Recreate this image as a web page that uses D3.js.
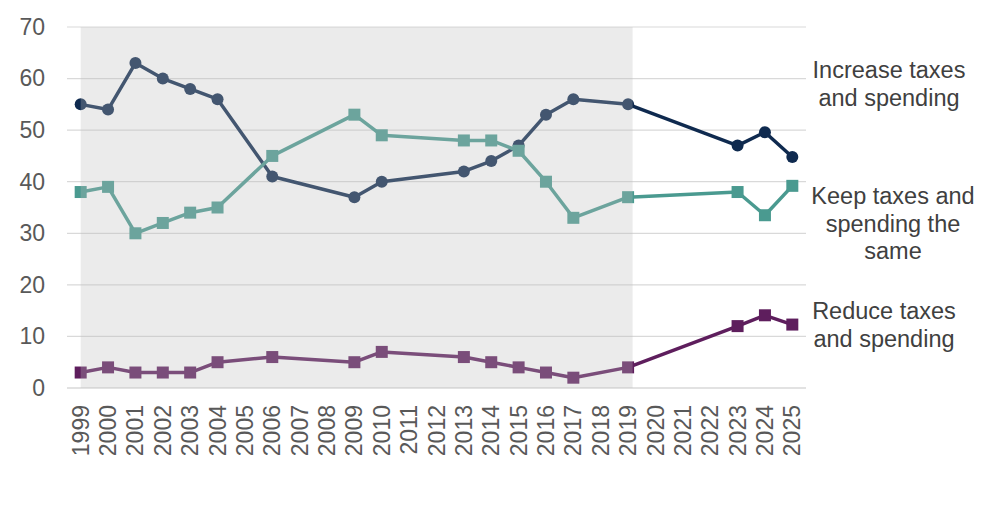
<!DOCTYPE html>
<html>
<head>
<meta charset="utf-8">
<script src="https://cdn.jsdelivr.net/npm/d3@7"></script>
<style>
  body { margin: 0; background: #fff; }
  text { font-family: "Liberation Sans", Arial, sans-serif; }
</style>
</head>
<body>
<div class="chart"></div>
<script>
// Data
const axisYears = d3.range(1999, 2026).map(String);
const surveyYears = [1999, 2000, 2001, 2002, 2003, 2004, 2006, 2009, 2010, 2013, 2014, 2015, 2016, 2017, 2019, 2023, 2024, 2025];
const increase = [55, 54, 63, 60, 58, 56, 41, 37, 40, 42, 44, 47, 53, 56, 55, 47, 49.6, 44.8];
const keep = [38, 39, 30, 32, 34, 35, 45, 53, 49, 48, 48, 46, 40, 33, 37, 38, 33.5, 39.2];
const reduce = [3, 4, 3, 3, 3, 5, 6, 5, 7, 6, 5, 4, 3, 2, 4, 12, 14.1, 12.3];
const yTicks = [0, 10, 20, 30, 40, 50, 60, 70];
const shadeFrom = 1999, shadeTo = 2019;

const W = 1000, H = 508;
const plot = {left: 67, right: 806, top: 27, bottom: 388};

const svg = d3.select(".chart").append("svg")
    .attr("width", W)
    .attr("height", H);

const x = d3.scaleBand()
    .domain(axisYears)
    .range([plot.left, plot.right])
    .padding(0);
const cx = yr => x(String(yr)) + x.bandwidth() / 2;

const y = d3.scaleLinear()
    .domain([0, 70])
    .range([plot.bottom, plot.top]);

// gridlines
svg.append("g")
    .selectAll("line")
    .data(yTicks)
    .join("line")
    .attr("x1", plot.left)
    .attr("x2", plot.right)
    .attr("y1", d => y(d))
    .attr("y2", d => y(d))
    .attr("stroke", "#d9d9d9")
    .attr("stroke-width", d => d === 0 ? 1.5 : 1.2);

// y axis labels
const yAxis = d3.axisLeft(y).tickValues(yTicks).tickSize(0).tickPadding(22);
svg.append("g")
    .attr("transform", `translate(${plot.left},0)`)
    .call(yAxis)
    .call(g => g.select(".domain").remove())
    .call(g => g.selectAll("text")
        .attr("font-size", 23)
        .attr("fill", "#595959")
        .attr("font-family", "Liberation Sans, Arial, sans-serif"));

// x axis labels (rotated)
const xAxis = d3.axisBottom(x).tickSize(0).tickPadding(0);
svg.append("g")
    .attr("transform", `translate(0,${plot.bottom})`)
    .call(xAxis)
    .call(g => g.select(".domain").remove())
    .call(g => g.selectAll("text")
        .attr("font-size", 23)
        .attr("fill", "#595959")
        .attr("font-family", "Liberation Sans, Arial, sans-serif")
        .attr("text-anchor", "end")
        .attr("transform", "translate(0,17) rotate(-90)")
        .attr("x", 0)
        .attr("y", 0)
        .attr("dy", "0.35em"));

const series = [
  {name: "increase", values: increase, color: "#0f2a4f", marker: "circle"},
  {name: "keep", values: keep, color: "#4a9a90", marker: "square"},
  {name: "reduce", values: reduce, color: "#5e1e5d", marker: "square"}
];

const line = d3.line()
    .x((d, i) => cx(surveyYears[i]))
    .y(d => y(d));

series.forEach(s => {
  const g = svg.append("g").attr("class", s.name);
  g.append("path")
      .datum(s.values)
      .attr("d", line)
      .attr("fill", "none")
      .attr("stroke", s.color)
      .attr("stroke-width", 3.5)
      .attr("stroke-linejoin", "round");
  if (s.marker === "circle") {
    g.selectAll("circle")
        .data(s.values)
        .join("circle")
        .attr("cx", (d, i) => cx(surveyYears[i]))
        .attr("cy", d => y(d))
        .attr("r", 6)
        .attr("fill", s.color);
  } else {
    const sz = 12;
    g.selectAll("rect")
        .data(s.values)
        .join("rect")
        .attr("x", (d, i) => cx(surveyYears[i]) - sz / 2)
        .attr("y", d => y(d) - sz / 2)
        .attr("width", sz)
        .attr("height", sz)
        .attr("fill", s.color);
  }
});

// translucent shading over the earlier years
svg.append("rect")
    .attr("x", cx(shadeFrom))
    .attr("y", plot.top)
    .attr("width", cx(shadeTo) - cx(shadeFrom) + 4.5)
    .attr("height", plot.bottom - plot.top)
    .attr("fill", "rgb(189,189,189)")
    .attr("opacity", 0.3);

// series labels
const labels = [
  {lines: ["Increase taxes", "and spending"], x: 889, y: 78},
  {lines: ["Keep taxes and", "spending the", "same"], x: 893, y: 204},
  {lines: ["Reduce taxes", "and spending"], x: 884, y: 319}
];
labels.forEach(l => {
  const t = svg.append("text")
      .attr("x", l.x)
      .attr("y", l.y)
      .attr("text-anchor", "middle")
      .attr("font-size", 23.5)
      .attr("fill", "#404040");
  l.lines.forEach((ln, i) => {
    t.append("tspan")
        .attr("x", l.x)
        .attr("dy", i === 0 ? 0 : 27.5)
        .text(ln);
  });
});
</script>
</body>
</html>
